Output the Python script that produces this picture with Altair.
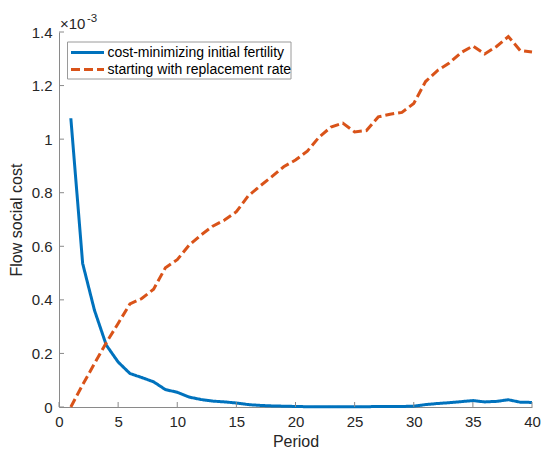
import altair as alt
import pandas as pd

# Flow social cost per period, in units of 1e-3
periods = list(range(1, 41))
cost_min = [1.078, 0.536, 0.361, 0.231, 0.168, 0.125, 0.110, 0.094, 0.065, 0.055,
            0.037, 0.028, 0.022, 0.019, 0.015, 0.009, 0.006, 0.004, 0.003, 0.002,
            0.001, 0.001, 0.001, 0.001, 0.001, 0.001, 0.002, 0.002, 0.002, 0.003,
            0.009, 0.013, 0.016, 0.020, 0.024, 0.019, 0.021, 0.027, 0.018, 0.017]
replacement = [0.000, 0.083, 0.162, 0.240, 0.312, 0.385, 0.405, 0.440, 0.520, 0.550,
               0.604, 0.642, 0.675, 0.698, 0.729, 0.788, 0.825, 0.860, 0.897, 0.922,
               0.955, 1.008, 1.045, 1.060, 1.027, 1.032, 1.083, 1.093, 1.100, 1.133,
               1.215, 1.256, 1.284, 1.323, 1.348, 1.318, 1.346, 1.383, 1.331, 1.325]
series_names = ["cost-minimizing initial fertility", "starting with replacement rate"]
series_colors = ["#0072BD", "#D95319"]
series_dashes = [[1, 0], [9, 4]]

x_ticks = [0, 5, 10, 15, 20, 25, 30, 35, 40]
y_ticks = [0, 0.2, 0.4, 0.6, 0.8, 1.0, 1.2, 1.4]

W, H = 473, 375
FONT = "Liberation Sans"
AXIS_GREY = "#8a8a8a"
TEXT = "#262626"

df = pd.DataFrame({
    "Period": periods * 2,
    "cost": cost_min + replacement,
    "series": [series_names[0]] * len(periods) + [series_names[1]] * len(periods),
})

xs = alt.Scale(domain=[0, 40], nice=False)
ys = alt.Scale(domain=[0, 1.4], nice=False)

lines = alt.Chart(df).mark_line(strokeWidth=3).encode(
    x=alt.X("Period:Q", scale=xs, title="Period",
            axis=alt.Axis(values=x_ticks, format="~g", labelFlush=False)),
    y=alt.Y("cost:Q", scale=ys, title="Flow social cost",
            axis=alt.Axis(values=y_ticks, format="~g", labelFlush=False)),
    color=alt.Color("series:N", scale=alt.Scale(domain=series_names, range=series_colors),
                    legend=None),
    strokeDash=alt.StrokeDash("series:N",
                              scale=alt.Scale(domain=series_names, range=series_dashes),
                              legend=None),
)

# inward-pointing tick marks along the bottom and left axes
xticks = alt.Chart(pd.DataFrame({"t": x_ticks})).mark_rule(color=AXIS_GREY, strokeWidth=1).encode(
    x=alt.X("t:Q", scale=xs), y=alt.value(H), y2=alt.value(H - 5))
yticks = alt.Chart(pd.DataFrame({"t": y_ticks})).mark_rule(color=AXIS_GREY, strokeWidth=1).encode(
    y=alt.Y("t:Q", scale=ys), x=alt.value(0), x2=alt.value(5))

# axis exponent marker
exp_base = alt.Chart(pd.DataFrame({"s": ["\u00d710"]})).mark_text(
    align="left", baseline="alphabetic", fontSize=15, font=FONT, color=TEXT
).encode(text="s:N", x=alt.value(1), y=alt.value(-3))
exp_pow = alt.Chart(pd.DataFrame({"s": ["-3"]})).mark_text(
    align="left", baseline="alphabetic", fontSize=11.5, font=FONT, color=TEXT
).encode(text="s:N", x=alt.value(28), y=alt.value(-10))

# boxed legend in the upper-left corner
legend_layers = [
    alt.Chart(pd.DataFrame({"k": [0]})).mark_rect(
        fill="white", stroke="#9a9a9a", strokeWidth=1
    ).encode(x=alt.value(8.5), x2=alt.value(232), y=alt.value(10), y2=alt.value(47))
]
for i, (name, col, dash) in enumerate(zip(series_names, series_colors, series_dashes)):
    row_y = 20.5 + 17 * i
    legend_layers.append(
        alt.Chart(pd.DataFrame({"k": [name]})).mark_rule(
            color=col, strokeWidth=3, strokeDash=dash
        ).encode(x=alt.value(12), x2=alt.value(45), y=alt.value(row_y))
    )
    legend_layers.append(
        alt.Chart(pd.DataFrame({"k": [name]})).mark_text(
            align="left", baseline="middle", fontSize=14, font=FONT, color="#000000"
        ).encode(text="k:N", x=alt.value(48.5), y=alt.value(row_y))
    )

chart = alt.layer(lines, xticks, yticks, exp_base, exp_pow, *legend_layers).properties(
    width=W, height=H,
    autosize=alt.AutoSizeParams(type="none"),
    padding={"left": 59, "top": 32, "right": 10, "bottom": 43},
).configure_view(stroke=None).configure_axis(
    grid=False, ticks=False, tickSize=0,
    domainColor=AXIS_GREY, domainWidth=1,
    labelFont=FONT, labelFontSize=15, labelColor=TEXT, labelPadding=7,
    titleFont=FONT, titleFontSize=16, titleColor=TEXT, titleFontWeight="normal",
).configure_axisY(titlePadding=7).configure_axisX(titlePadding=4)

chart.save("out.html", embed_options={"renderer": "svg", "actions": False})
